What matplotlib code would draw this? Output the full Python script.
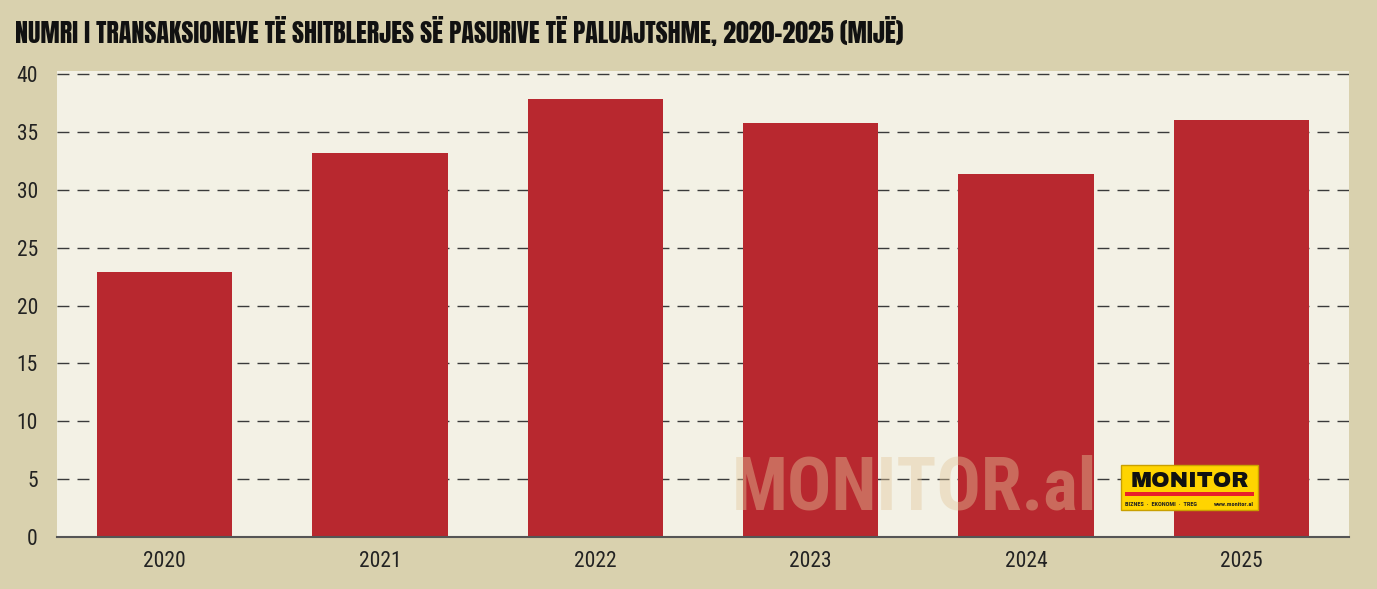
import numpy as np
import matplotlib.pyplot as plt
from matplotlib.patches import Rectangle

# data (mije transaksione)
years = ['2020', '2021', '2022', '2023', '2024', '2025']
values = [22.9, 33.2, 37.8, 35.8, 31.4, 36.0]
yticks = [0, 5, 10, 15, 20, 25, 30, 35, 40]

title = 'NUMRI I TRANSAKSIONEVE TË SHITBLERJES SË PASURIVE TË PALUAJTSHME, 2020-2025 (MIJË)'

bg = '#D9D1AE'
plot_bg = '#F3F1E5'
bar_col = '#B8282F'
cond = ['Roboto Condensed', 'DejaVu Sans']
heavy = ['Anton', 'DejaVu Sans']

fig = plt.figure(figsize=(13.77, 5.89), dpi=100)
fig.patch.set_facecolor(bg)
ax = fig.add_axes([57/1377, 52/589, 1292/1377, 466/589])
ax.set_facecolor(plot_bg)

x = np.arange(len(years))
ax.bar(x, values, width=0.63, color=bar_col, zorder=3)

ax.set_xlim(-0.5, 5.5)
ax.set_ylim(0, 40.26)
ax.set_yticks(yticks)
ax.set_xticks(x)
ax.set_xticklabels(years)

for t in yticks[1:]:
    ax.axhline(t, color='#3a3a3a', lw=1.0, ls=(0, (8.6, 5.8)), zorder=2)

for s in ['top', 'right', 'left']:
    ax.spines[s].set_visible(False)
ax.spines['bottom'].set_color('#555555')
ax.spines['bottom'].set_linewidth(1.5)
ax.spines['bottom'].set_zorder(4)

ax.tick_params(axis='both', length=0, labelcolor='#222222')
ax.tick_params(axis='y', pad=13.7)
ax.tick_params(axis='x', pad=10)
for lab in ax.get_xticklabels() + ax.get_yticklabels():
    lab.set_family(cond)
    lab.set_fontsize(15.5)

fig.text(15/1377, 1 - 31/589, title, family=heavy,
         fontsize=18.7, color='#111111', va='center', ha='left')

# watermark
ax.text(732/1377, 1 - 489/589, 'MONITOR.al', transform=fig.transFigure,
        family=cond, fontweight='bold', fontsize=53, color='#E3C79C',
        alpha=0.42, va='center', ha='left', zorder=5)

# logo
lx, ly, lw, lh = 1121/1377, 1 - 510/589, 137/1377, 45/589
fig.patches.append(Rectangle((lx, ly), lw, lh, transform=fig.transFigure,
                             facecolor='#FFD400', edgecolor='#C9A000', lw=1, zorder=6))
fig.patches.append(Rectangle((lx + 4/1377, ly + 14/589), 129/1377, 4/589,
                             transform=fig.transFigure, facecolor='#E8202A',
                             edgecolor='none', zorder=7))
fig.text(lx + lw/2, 1 - 481/589, 'MONITOR', family=['Archivo Black', 'DejaVu Sans'],
         fontsize=16, color='#111111', ha='center', va='center', zorder=8)
fig.text(lx + 4/1377, 1 - 504/589, 'BIZNES  ·  EKONOMI  ·  TREG', family=cond,
         fontsize=4.5, fontweight='bold', color='#222222', ha='left', va='center', zorder=8)
fig.text(lx + lw - 4/1377, 1 - 504/589, 'www.monitor.al', family=cond,
         fontsize=4.5, fontweight='bold', color='#222222', ha='right', va='center', zorder=8)

fig.savefig('out.png', dpi=100, facecolor=bg)
